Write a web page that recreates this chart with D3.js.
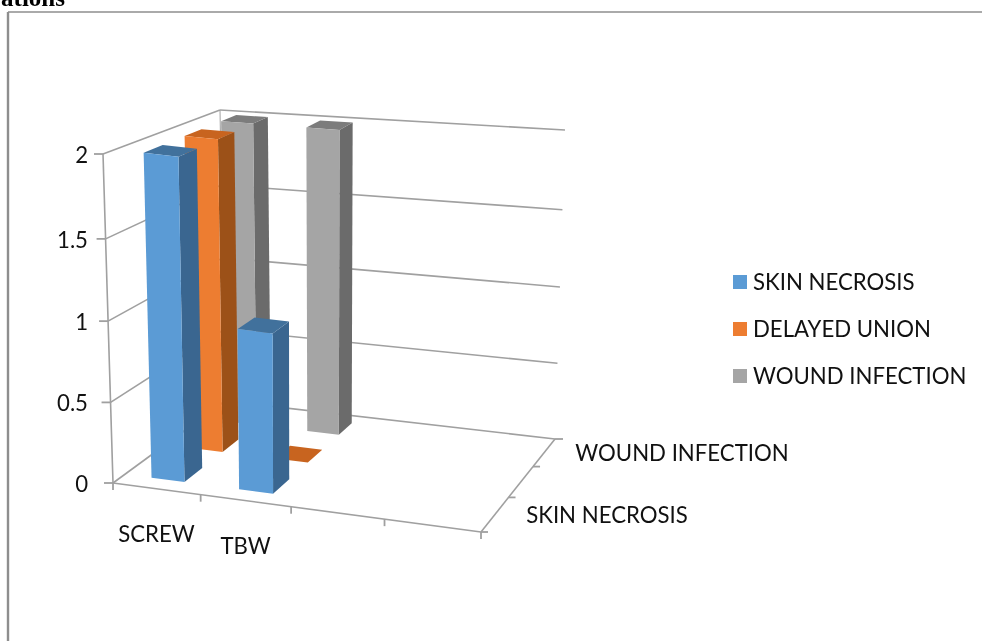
<!DOCTYPE html>
<html><head><meta charset="utf-8">
<script src="https://cdn.jsdelivr.net/npm/d3@7"></script>
<style>html,body{margin:0;padding:0;background:#fff;overflow:hidden}svg{display:block;filter:blur(0.35px)}text{font-family:Lato,sans-serif;fill:#111}</style>
</head><body><svg id="c" width="982" height="641"></svg>
<script>
const categories = ["SCREW", "TBW", "cat3", "cat4"];
const categoryLabels = ["SCREW", "TBW"];
const seriesNames = ["SKIN NECROSIS", "DELAYED UNION", "WOUND INFECTION"];
const depthLabels = ["SKIN NECROSIS", "", "WOUND INFECTION"];
const skinNecrosis = [2, 1];
const delayedUnion = [2, 0];
const woundInfection = [2, 2];
const valueTicks = [0, 0.5, 1, 1.5, 2];
const faceColors = [
  {front:"#5b9bd5", side:"#3a6690", top:"#41719c"},
  {front:"#ed7d31", side:"#9c5118", top:"#c8641f"},
  {front:"#a5a5a5", side:"#6b6b6b", top:"#7c7c7c"}
];
const seriesValues = [skinNecrosis, delayedUnion, woundInfection];

const svg = d3.select("#c");
const xBand = d3.scaleBand().domain(categories).range([0,1]).paddingInner(0.62).paddingOuter(0.31);
const zBand = d3.scaleBand().domain(seriesNames).range([0,1]).paddingInner(0.55).paddingOuter(0.275);
const yS = d3.scaleLinear().domain([0,0.5,1,1.5,2]).range([0,0.245,0.492,0.742,1]);

// box corners on screen: [x, z] at bottom and top of the value axis
const C = {
  fl0:[113,483], fr0:[481,532], bl0:[225,401], br0:[555,439],
  fl1:[103,154], fr1:[493,203], bl1:[220,110], br1:[565,130]
};
const mix = (a,b,t)=>[a[0]+(b[0]-a[0])*t, a[1]+(b[1]-a[1])*t];
const warpU = u => u/(1+0.066*(1-u));
const warpV = v => v*1.185/(1+0.185*v);
function P(u,h,v){
  const U=warpU(u), V=warpV(v);
  const bot=mix(mix(C.fl0,C.fr0,U),mix(C.bl0,C.br0,U),V);
  const top=mix(mix(C.fl1,C.fr1,U),mix(C.bl1,C.br1,U),V);
  return mix(bot,top,h);
}
const poly = d3.line();
const GRID="#a0a0a0";
function seg(a,b,w,col){svg.append("path").attr("d",poly([a,b])).attr("fill","none").attr("stroke",col||GRID).attr("stroke-width",w||1.6);}

// frame of the picture
seg([8,641],[8,12],2.4,"#8e8e8e");
seg([8,12],[982,12],1.6,"#8e8e8e");
svg.append("text").attr("x",65).attr("y",6).attr("text-anchor","end")
  .style("font-family","'Liberation Serif',serif").style("font-weight","bold").style("font-size","25px").style("fill","#000").text("ations");

// walls
valueTicks.forEach(t=>{
  const h=yS(t);
  seg(P(0,h,0),P(0,h,1));
  seg(P(0,h,1),P(1,h,1));
  const p=P(0,h,0);
  seg([p[0]-9,p[1]],p,1.8);
  svg.append("text").attr("x",88).attr("y",p[1]+3).attr("text-anchor","end").attr("dominant-baseline","middle")
    .style("font-size","22.2px").text(t);
});
seg(P(0,0,0),P(0,1,0));
seg(P(0,0,1),P(0,1,1),1);
// floor edges + ticks
seg(P(0,0,0),P(1,0,0));
seg(P(1,0,0),P(1,0,1));
categories.forEach((c,i)=>{const p=P(xBand.step()*i,0,0);seg(p,[p[0],p[1]+7],1.8);});
{const p=P(1,0,0);seg(p,[p[0],p[1]+7],1.8);}
seriesNames.forEach((s,i)=>{const p=P(1,0,zBand.step()*i);seg(p,[p[0]+7,p[1]],1.8);});
{const p=P(1,0,1);seg(p,[p[0]+8,p[1]],1.8);}

// bars, back series first
d3.range(seriesNames.length).reverse().forEach(si=>{
  const z0=zBand(seriesNames[si]), z1=z0+zBand.bandwidth(), col=faceColors[si];
  seriesValues[si].forEach((val,ci)=>{
    const x0=xBand(categories[ci]), x1=x0+xBand.bandwidth(), h=yS(val);
    const face=(pts,f)=>svg.append("path").attr("d",poly(pts)+"Z").attr("fill",f);
    if(val===0){ face([P(x0,0,z0),P(x1,0,z0),P(x1,0,z1),P(x0,0,z1)],col.top); return; }
    face([P(x1,0,z0),P(x1,0,z1),P(x1,h,z1),P(x1,h,z0)],col.side);
    face([P(x0,h,z0),P(x1,h,z0),P(x1,h,z1),P(x0,h,z1)],col.top);
    face([P(x0,0,z0),P(x1,0,z0),P(x1,h,z0),P(x0,h,z0)],col.front);
  });
});

// axis labels
categoryLabels.forEach(c=>{
  const p=P(xBand(c)+xBand.bandwidth()/2,0,0);
  svg.append("text").attr("x",p[0]).attr("y",p[1]+48).attr("text-anchor","middle").attr("dominant-baseline","middle").style("font-size","22.2px").text(c);
});
depthLabels.forEach((d,i)=>{
  if(!d) return;
  const p=P(1,0,zBand(seriesNames[i])+zBand.bandwidth()/2);
  svg.append("text").attr("x",p[0]+31).attr("y",p[1]+3).attr("dominant-baseline","middle").style("font-size","22.2px").text(d);
});
// legend
const legY=d3.scalePoint().domain(seriesNames).range([282,376]);
seriesNames.forEach((s,i)=>{
  svg.append("rect").attr("x",733).attr("y",legY(s)-7).attr("width",14).attr("height",14).attr("fill",faceColors[i].front);
  svg.append("text").attr("x",753).attr("y",legY(s)+2).attr("dominant-baseline","middle").style("font-size","22.2px").text(s);
});
</script></body></html>
